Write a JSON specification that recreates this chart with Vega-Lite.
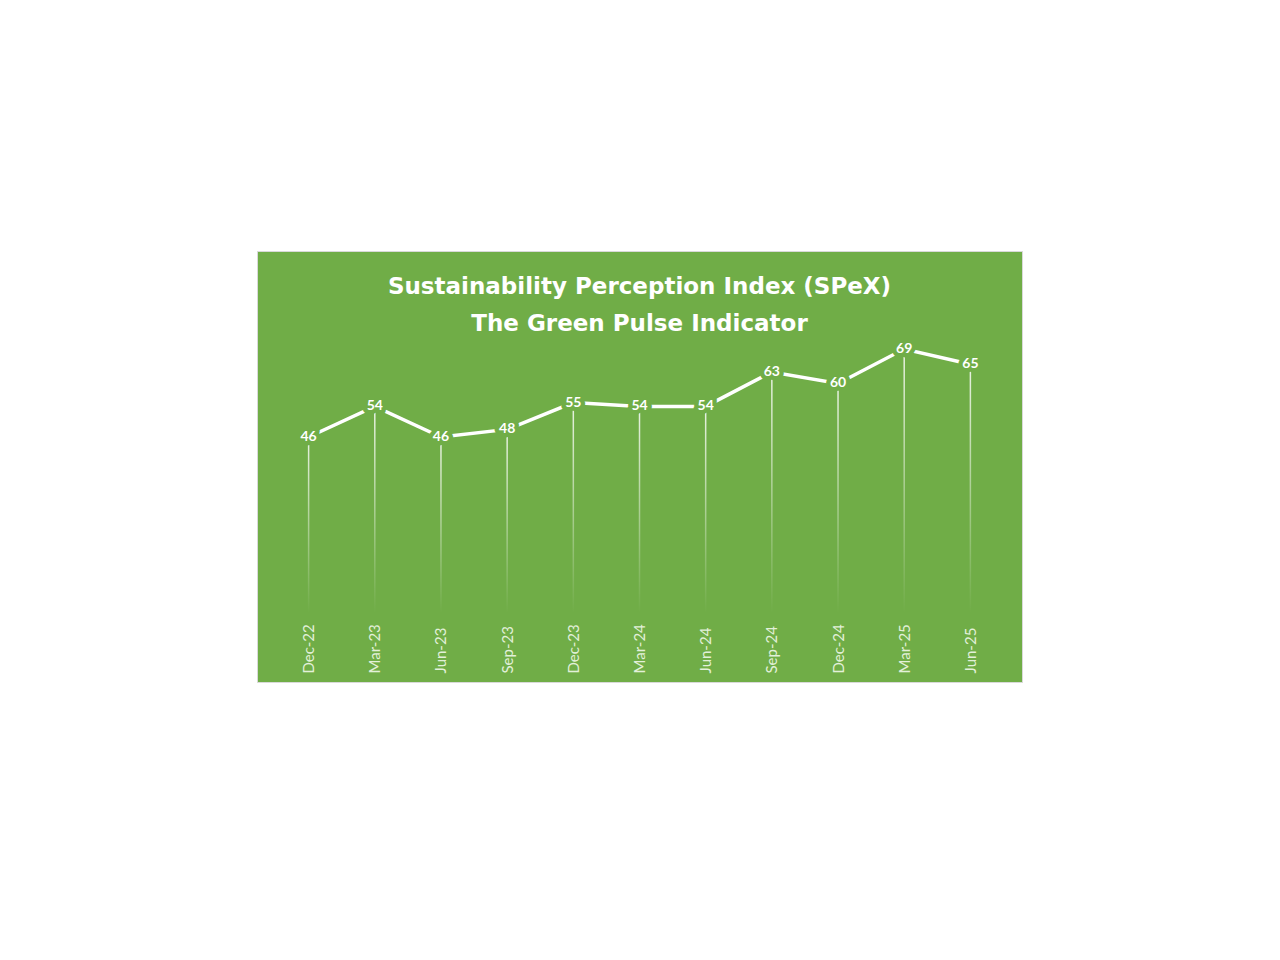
{
  "$schema": "https://vega.github.io/schema/vega-lite/v6.json",
  "description": "Sustainability Perception Index (SPeX) - The Green Pulse Indicator",
  "width": 765,
  "height": 431,
  "autosize": "none",
  "padding": {"left": 257, "top": 251, "right": 258, "bottom": 278},
  "background": "white",
  "view": {"fill": "#70AD47", "stroke": "#D9D9D9", "strokeWidth": 1},
  "title": {
    "text": ["Sustainability Perception Index (SPeX)", "The Green Pulse Indicator"],
    "anchor": "middle",
    "frame": "group",
    "offset": -85,
    "lineHeight": 37,
    "font": "DejaVu Sans",
    "fontSize": 23,
    "fontWeight": "bold",
    "color": "white"
  },
  "data": {
    "values": [
      {"quarter": "Dec-22", "index": 46},
      {"quarter": "Mar-23", "index": 54},
      {"quarter": "Jun-23", "index": 46},
      {"quarter": "Sep-23", "index": 48},
      {"quarter": "Dec-23", "index": 55},
      {"quarter": "Mar-24", "index": 54},
      {"quarter": "Jun-24", "index": 54},
      {"quarter": "Sep-24", "index": 63},
      {"quarter": "Dec-24", "index": 60},
      {"quarter": "Mar-25", "index": 69},
      {"quarter": "Jun-25", "index": 65}
    ]
  },
  "encoding": {
    "x": {
      "field": "quarter",
      "type": "ordinal",
      "sort": null,
      "scale": {"type": "point", "padding": 0.78},
      "axis": {
        "title": null,
        "labelAngle": -90,
        "labelAlign": "left",
        "labelBaseline": "middle",
        "labelPadding": -9,
        "ticks": false,
        "domain": false,
        "grid": false,
        "labelFont": "Lato",
        "labelFontSize": 15,
        "labelColor": "#E2F0D9"
      }
    },
    "y": {
      "field": "index",
      "type": "quantitative",
      "scale": {"domain": [-18, 94.6], "nice": false, "zero": false},
      "axis": null
    }
  },
  "layer": [
    {
      "mark": {
        "type": "bar",
        "width": 1.5,
        "fill": {
          "gradient": "linear",
          "x1": 0, "y1": 0, "x2": 0, "y2": 1,
          "stops": [
            {"offset": 0, "color": "rgba(255,255,255,0.85)"},
            {"offset": 1, "color": "rgba(255,255,255,0)"}
          ]
        }
      },
      "encoding": {
        "y2": {"datum": 0}
      }
    },
    {
      "mark": {"type": "line", "color": "white", "strokeWidth": 3.5}
    },
    {
      "mark": {
        "type": "text",
        "font": "Lato",
        "fontSize": 14,
        "fontWeight": "bold",
        "fill": "#70AD47",
        "stroke": "#70AD47",
        "strokeWidth": 9,
        "strokeJoin": "round"
      },
      "encoding": {"text": {"field": "index", "type": "quantitative"}}
    },
    {
      "mark": {
        "type": "text",
        "font": "Lato",
        "fontSize": 14,
        "fontWeight": "bold",
        "color": "white"
      },
      "encoding": {"text": {"field": "index", "type": "quantitative"}}
    }
  ]
}
